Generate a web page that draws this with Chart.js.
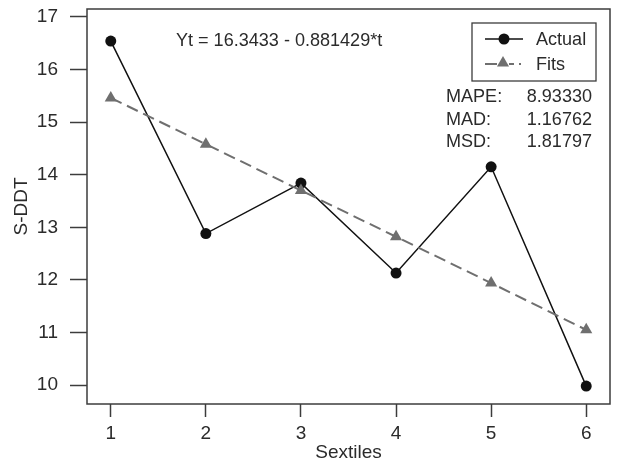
<!DOCTYPE html>
<html>
<head>
<meta charset="utf-8">
<script src="https://cdn.jsdelivr.net/npm/chart.js@4.4.0/dist/chart.umd.min.js"></script>
<style>
  html, body { margin: 0; padding: 0; background: #fff; }
  #wrap { width: 617px; height: 464px; }
</style>
</head>
<body>
<div id="wrap"><canvas id="trend"></canvas></div>
<script>
const sextiles = [1, 2, 3, 4, 5, 6];
const actual = [16.54, 12.88, 13.84, 12.13, 14.15, 9.98];
const fits = [15.46, 14.58, 13.70, 12.82, 11.94, 11.05];
const yTicks = [10, 11, 12, 13, 14, 15, 16, 17];
const equation = 'Yt = 16.3433 - 0.881429*t';
const statLabels = ['MAPE:', 'MAD:', 'MSD:'];
const statValues = ['8.93330', '1.16762', '1.81797'];

const FONT = '"Liberation Sans", Arial, sans-serif';
const FS = 19;
const TEXT = '#2b2b2b';
const AXIS = '#3c3c3c';
const FIT_COLOR = '#6f6f6f';

function drawMarker(ctx, style, x, y, r, color) {
    ctx.fillStyle = color;
    ctx.beginPath();
    if (style === 'circle') {
        ctx.arc(x, y, r, 0, Math.PI * 2);
    } else {
        ctx.moveTo(x, y - r);
        ctx.lineTo(x + r * 0.866, y + r * 0.5);
        ctx.lineTo(x - r * 0.866, y + r * 0.5);
        ctx.closePath();
    }
    ctx.fill();
}

// text here is a bit narrower than Arial, squeeze it horizontally
function squeezed(ctx, str, x, y, align) {
    const k = 0.95;
    ctx.save();
    ctx.translate(x, y);
    ctx.scale(k, 1);
    ctx.textAlign = align;
    ctx.fillText(str, 0, 0);
    ctx.restore();
}

const decorations = {
    id: 'decorations',
    afterDatasetsDraw(chart) {
        const ctx = chart.ctx;
        const a = chart.chartArea;
        ctx.save();
        // frame
        ctx.strokeStyle = AXIS;
        ctx.lineWidth = 1.5;
        ctx.strokeRect(a.left, a.top, a.right - a.left, a.bottom - a.top);

        ctx.font = FS + 'px ' + FONT;
        ctx.fillStyle = TEXT;
        ctx.textBaseline = 'middle';

        squeezed(ctx, equation, 176, 41, 'left');

        // legend box
        ctx.strokeStyle = AXIS;
        ctx.lineWidth = 1.3;
        ctx.strokeRect(472, 23, 124, 58);

        // Actual sample
        ctx.strokeStyle = '#111';
        ctx.lineWidth = 1.5;
        ctx.beginPath();
        ctx.moveTo(485, 39); ctx.lineTo(523, 39);
        ctx.stroke();
        drawMarker(ctx, 'circle', 504, 39, 5.5, '#111');

        // Fits sample
        ctx.strokeStyle = FIT_COLOR;
        ctx.lineWidth = 2;
        ctx.beginPath();
        ctx.moveTo(485, 64); ctx.lineTo(497, 64);
        ctx.moveTo(509, 64); ctx.lineTo(514, 64);
        ctx.moveTo(519, 64); ctx.lineTo(521, 64);
        ctx.stroke();
        drawMarker(ctx, 'triangle', 503, 63, 7, FIT_COLOR);

        ctx.fillStyle = TEXT;
        squeezed(ctx, 'Actual', 536, 40, 'left');
        squeezed(ctx, 'Fits', 536, 65, 'left');

        statLabels.forEach((lab, i) => {
            const y = 97 + i * 22.5;
            squeezed(ctx, lab, 446, y, 'left');
            squeezed(ctx, statValues[i], 592, y, 'right');
        });
        ctx.restore();
    }
};

new Chart(document.getElementById('trend'), {
    type: 'scatter',
    data: {
        datasets: [
            {
                label: 'Fits',
                data: sextiles.map((t, i) => ({ x: t, y: fits[i] })),
                showLine: true,
                borderColor: FIT_COLOR,
                backgroundColor: FIT_COLOR,
                borderWidth: 2,
                borderDash: [12, 6],
                pointStyle: 'triangle',
                pointRadius: 7,
                pointBorderWidth: 0,
                tension: 0
            },
            {
                label: 'Actual',
                data: sextiles.map((t, i) => ({ x: t, y: actual[i] })),
                showLine: true,
                borderColor: '#111',
                backgroundColor: '#111',
                borderWidth: 1.5,
                pointStyle: 'circle',
                pointRadius: 5.5,
                pointBorderWidth: 0,
                tension: 0
            }
        ]
    },
    options: {
        responsive: true,
        maintainAspectRatio: false,
        animation: false,
        layout: { padding: { top: 9, right: 1.5, left: 0, bottom: 0 } },
        plugins: {
            legend: { display: false },
            tooltip: { enabled: false }
        },
        scales: {
            x: {
                type: 'linear',
                min: 0.75,
                max: 6.25,
                afterFit: (s) => { s.height = 60; s.paddingLeft = 0; s.paddingRight = 0; },
                afterBuildTicks: (s) => { s.ticks = sextiles.map(v => ({ value: v })); },
                border: { display: false },
                grid: { drawOnChartArea: false, drawTicks: true, tickLength: 13, tickColor: AXIS, tickWidth: 1.5 },
                ticks: { color: TEXT, font: { family: FONT, size: FS }, padding: 5, maxRotation: 0 },
                title: { display: true, text: 'Sextiles', color: TEXT, font: { family: FONT, size: FS }, padding: { top: 0, bottom: 0 } }
            },
            y: {
                min: 9.64,
                max: 17.15,
                afterFit: (s) => { s.width = 87; s.paddingTop = 0; s.paddingBottom = 0; },
                afterBuildTicks: (s) => { s.ticks = yTicks.map(v => ({ value: v })); },
                border: { display: false },
                grid: { drawOnChartArea: false, drawTicks: true, tickLength: 17, tickColor: AXIS, tickWidth: 1.5 },
                ticks: { color: TEXT, font: { family: FONT, size: FS }, padding: 12 },
                title: { display: true, text: 'S-DDT', color: TEXT, font: { family: FONT, size: FS }, padding: { top: 10, bottom: 0 } }
            }
        }
    },
    plugins: [decorations]
});
</script>
</body>
</html>
